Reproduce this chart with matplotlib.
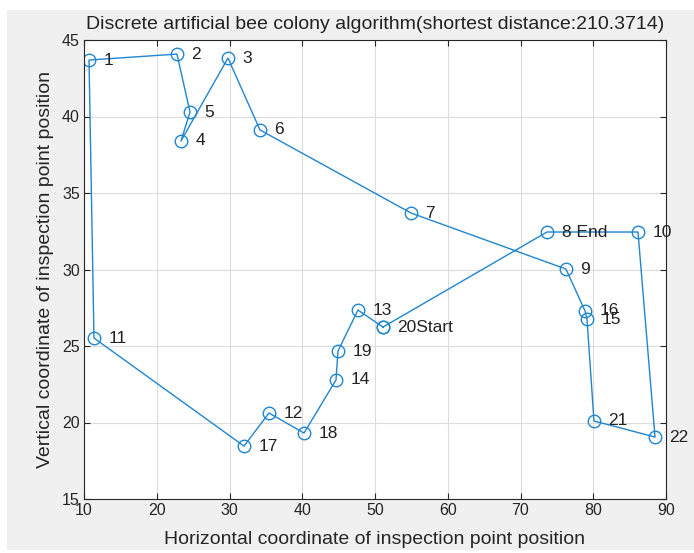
import numpy as np
import matplotlib.pyplot as plt
from matplotlib.patches import Rectangle

plt.rcParams['font.family'] = ['Liberation Sans', 'DejaVu Sans']

# point coordinates (index = point number - 1)
xs = [10.69, 22.78, 29.79, 23.33, 24.57, 34.19, 54.95, 73.64, 76.25, 86.15, 11.37,
      35.43, 47.66, 44.64, 79.14, 78.87, 31.99, 40.24, 44.91, 51.10, 80.10, 88.49]
ys = [43.69, 44.08, 43.82, 38.40, 40.29, 39.12, 33.69, 32.45, 30.03, 32.45, 25.52,
      20.62, 27.35, 22.78, 26.76, 27.29, 18.46, 19.31, 24.67, 26.24, 20.10, 19.05]
route = [20, 13, 19, 14, 18, 12, 17, 11, 1, 2, 5, 4, 3, 6, 7, 9, 16, 15,
         21, 22, 10, 8, 20]
best_dist = 210.3714
start_pt, end_pt = 20, 8

color = '#1f86d0'

fig = plt.figure(figsize=(6.94, 5.53), dpi=100, facecolor='white')
# grey window area, white strip round it like in the screenshot
fig.patches.append(Rectangle((7 / 694, 3 / 553), 1 - 7 / 694, 1 - 13 / 553,
                             transform=fig.transFigure, facecolor='#f0f0f0',
                             edgecolor='none', zorder=-10))
ax = fig.add_axes([84 / 694, 54 / 553, 582 / 694, 459 / 553])
ax.set_facecolor('white')

rx = [xs[i - 1] for i in route]
ry = [ys[i - 1] for i in route]
ax.plot(rx, ry, '-o', color=color, lw=1.0, markersize=9,
        markerfacecolor='none', markeredgewidth=1.0)

for i in range(len(xs)):
    n = i + 1
    lab = str(n)
    if n == end_pt:
        lab = lab + ' End'
    elif n == start_pt:
        lab = lab + 'Start'
    ax.text(xs[i] + 2, ys[i], lab, fontsize=12.5, color='#222222',
            va='center', ha='left')

ax.set_xlim(10, 90)
ax.set_ylim(15, 45)
ax.set_xticks(np.arange(10, 91, 10))
ax.set_yticks(np.arange(15, 46, 5))
ax.grid(True, color='#dcdcdc', lw=0.8)
ax.set_axisbelow(True)
ax.tick_params(direction='in', top=True, right=True, labelsize=11.5,
               colors='#262626', length=4, pad=3)
for s in ax.spines.values():
    s.set_color('#262626')
    s.set_linewidth(0.8)

ax.set_title('Discrete artificial bee colony algorithm(shortest distance:%.4f)' % best_dist,
             fontsize=14, color='#222222', pad=8)
ax.set_xlabel('Horizontal coordinate of inspection point position', fontsize=14,
              color='#262626', labelpad=9)
ax.set_ylabel('Vertical coordinate of inspection point position', fontsize=14,
              color='#262626', labelpad=6)

fig.savefig('out.png', dpi=100, facecolor=fig.get_facecolor())
